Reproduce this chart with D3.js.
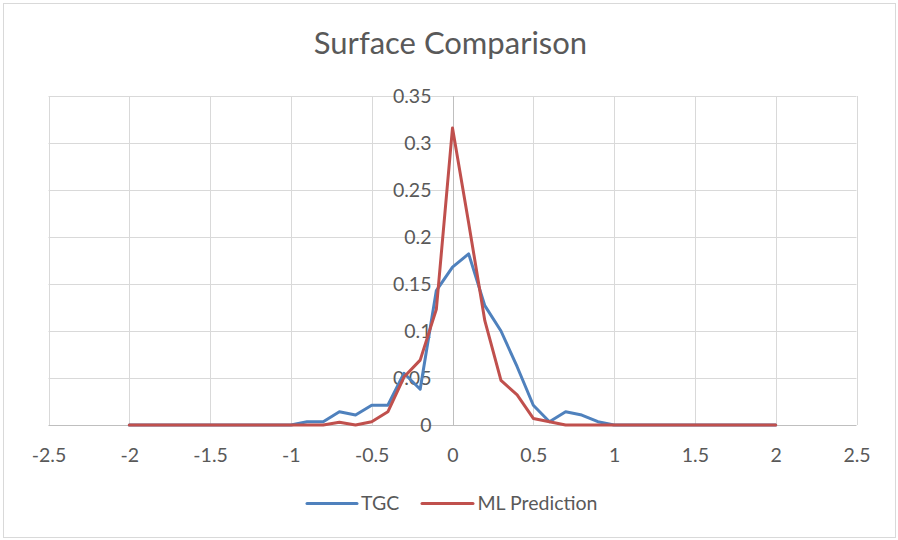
<!DOCTYPE html>
<html><head><meta charset="utf-8">
<script src="https://cdn.jsdelivr.net/npm/d3@7"></script>
<style>body{margin:0;background:#fff}svg{display:block}text{font-family:Lato,"Open Sans",sans-serif}</style>
</head><body><svg id="c" width="898" height="540"></svg>
<script>
const xValues = [-2,-1.9,-1.8,-1.7,-1.6,-1.5,-1.4,-1.3,-1.2,-1.1,-1,-0.9,-0.8,-0.7,-0.6,-0.5,-0.4,-0.3,-0.2,-0.1,0,0.1,0.2,0.3,0.4,0.5,0.6,0.7,0.8,0.9,1,1.1,1.2,1.3,1.4,1.5,1.6,1.7,1.8,1.9,2];
const tgc = [0,0,0,0,0,0,0,0,0,0,0,0.0035,0.0035,0.014,0.0106,0.021,0.021,0.055,0.038,0.143,0.168,0.182,0.127,0.100,0.062,0.021,0.0035,0.014,0.0106,0.0035,0,0,0,0,0,0,0,0,0,0,0];
const mlPrediction = [0,0,0,0,0,0,0,0,0,0,0,0,0,0.003,0,0.0035,0.014,0.051,0.069,0.123,0.316,0.215,0.111,0.0475,0.032,0.007,0.0035,0,0,0,0,0,0,0,0,0,0,0,0,0,0];
const xTicks = [-2.5,-2,-1.5,-1,-0.5,0,0.5,1,1.5,2,2.5];
const yTicks = [0,0.05,0.1,0.15,0.2,0.25,0.3,0.35];
const seriesNames = ["TGC","ML Prediction"];
const colors = ["#4F81BD","#C0504D"];

const svg = d3.select("#c");
svg.append("rect").attr("x",3.5).attr("y",3.5).attr("width",892).attr("height",534).attr("fill","#fff").attr("stroke","#D9D9D9");

const L=48.5,R=856.5,T=96,B=425;
const x = d3.scaleLinear().domain([-2.5,2.5]).range([L,R]);
const y = d3.scaleLinear().domain([0,0.35]).range([B,T]);

svg.append("g").selectAll("line").data(yTicks).join("line")
  .attr("x1",L).attr("x2",R).attr("y1",d=>Math.round(y(d))+0.5).attr("y2",d=>Math.round(y(d))+0.5)
  .attr("stroke",d=>d===0?"#BFBFBF":"#D9D9D9").attr("stroke-width",1);
svg.append("g").selectAll("line").data(xTicks).join("line")
  .attr("y1",T).attr("y2",B).attr("x1",d=>Math.round(x(d))+0.5).attr("x2",d=>Math.round(x(d))+0.5)
  .attr("stroke",d=>d===0?"#BFBFBF":"#D9D9D9").attr("stroke-width",1);

const fs = 19.5;
const xAxis = svg.append("g").attr("transform",`translate(0,${B})`)
  .call(d3.axisBottom(x).tickValues(xTicks).tickSize(0).tickPadding(23).tickFormat(d=>String(d)));
xAxis.select(".domain").remove();
xAxis.selectAll("text").attr("font-size",fs).attr("fill","#595959").attr("font-family","Lato");
const yAxis = svg.append("g").attr("transform",`translate(${x(0)},0)`)
  .call(d3.axisLeft(y).tickValues(yTicks).tickSize(0).tickPadding(21).tickFormat(d=>String(d)));
yAxis.select(".domain").remove();
yAxis.selectAll("text").attr("font-size",fs).attr("fill","#595959").attr("font-family","Lato");

const line = d3.line().x((d,i)=>x(xValues[i])).y(d=>y(d));
[tgc,mlPrediction].forEach((s,k)=>{
  svg.append("path").datum(s).attr("d",line).attr("fill","none")
    .attr("stroke",colors[k]).attr("stroke-width",3).attr("stroke-linejoin","round").attr("stroke-linecap","round");
});

svg.append("text").attr("x",450.5).attr("y",53.5).attr("text-anchor","middle")
  .attr("font-size",31).attr("fill","#595959").attr("font-family","Lato").text("Surface Comparison");

const leg = [{x1:307,x2:357,tx:361},{x1:422,x2:473,tx:477.5}];
leg.forEach((l,k)=>{
  svg.append("line").attr("x1",l.x1).attr("x2",l.x2).attr("y1",503.5).attr("y2",503.5)
    .attr("stroke",colors[k]).attr("stroke-width",3).attr("stroke-linecap","round");
  svg.append("text").attr("x",l.tx).attr("y",510).attr("font-size",fs).attr("fill","#595959")
    .attr("font-family","Lato").text(seriesNames[k]);
});
</script></body></html>
